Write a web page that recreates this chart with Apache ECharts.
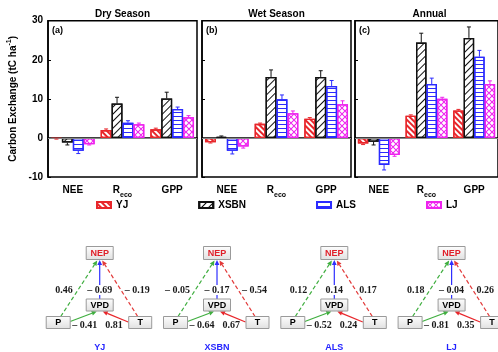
<!DOCTYPE html>
<html lang="en">
<head>
<meta charset="utf-8">
<title>Carbon Exchange</title>
<script src="https://cdn.jsdelivr.net/npm/echarts@6/dist/echarts.min.js"></script>
<style>
  html, body { margin: 0; padding: 0; background: #fff; }
  #chart { width: 498px; height: 352px; }
</style>
</head>
<body>
<div id="chart"></div>
<script>
// categories, sites, ticks
var cats = ['NEE', 'Reco', 'GPP'];
var sites = ['YJ', 'XSBN', 'ALS', 'LJ'];
var yTicks = [-10, 0, 10, 20, 30];
var panelTitles = ['Dry Season', 'Wet Season', 'Annual'];
var panelTags = ['(a)', '(b)', '(c)'];

// rows = sites (YJ, XSBN, ALS, LJ), cols = NEE, Reco, GPP
var dryMean = [[-0.2, 2.0, 2.2], [-1.2, 8.8, 10.1], [-3.3, 3.9, 7.4], [-1.6, 3.5, 5.3]];
var dryErr  = [[0.1, 0.3, 0.3], [0.6, 1.6, 1.6], [0.7, 0.5, 0.5], [0.2, 0.3, 0.4]];
var wetMean = [[-1.1, 3.6, 4.9], [0.3, 15.6, 15.6], [-3.3, 9.9, 13.3], [-2.2, 6.3, 8.6]];
var wetErr  = [[0.2, 0.2, 0.3], [0.2, 1.8, 1.6], [0.8, 1.1, 1.4], [0.4, 0.6, 0.9]];
var annMean = [[-1.4, 5.7, 7.0], [-1.0, 24.4, 25.6], [-6.9, 13.8, 20.8], [-4.4, 10.0, 13.8]];
var annErr  = [[0.3, 0.2, 0.3], [0.8, 2.4, 2.8], [1.3, 1.5, 1.6], [0.3, 0.4, 0.8]];

// path coefficients for the four sites
var pToNep   = [0.46, -0.05, 0.12, 0.18];
var vpdToNep = [-0.69, -0.17, 0.14, -0.04];
var tToNep   = [-0.19, -0.54, 0.17, 0.26];
var pToVpd   = [-0.41, -0.64, -0.52, -0.81];
var tToVpd   = [0.81, 0.67, 0.24, 0.35];

var RED = '#e8262b', BLACK = '#111111', BLUE = '#2b2bff', PINK = '#ee22ee';
var siteColors = [RED, BLACK, BLUE, PINK];
var SANS = '"Liberation Sans", Arial, sans-serif';
var SERIF = '"Liberation Serif", "Times New Roman", serif';

var decals = [
    {symbol: 'rect', symbolSize: 1, color: RED, dashArrayX: [1, 0], dashArrayY: [2, 2], rotation: Math.PI / 4},
    {symbol: 'rect', symbolSize: 1, color: BLACK, dashArrayX: [1, 0], dashArrayY: [1, 4], rotation: -Math.PI / 4},
    {symbol: 'rect', symbolSize: 1, color: BLUE, dashArrayX: [1, 0], dashArrayY: [1, 3], rotation: 0},
    {symbol: 'path://M0,0L1.2,0L10,8.8L10,10L8.8,10L0,1.2Z M8.8,0L10,0L10,1.2L1.2,10L0,10L0,8.8Z',
     symbolSize: 1, symbolKeepAspect: false, color: PINK, dashArrayX: [6, 0], dashArrayY: [6, 0], rotation: 0}
];

var means = [dryMean, wetMean, annMean];
var errs = [dryErr, wetErr, annErr];
var panelLeft = [48, 202, 355];

var chart = echarts.init(document.getElementById('chart'));

var grids = [], xAxes = [], yAxes = [], series = [], graphics = [];

for (var g = 0; g < 3; g++) {
    grids.push({left: panelLeft[g], top: 20.7, width: 149, height: 156.3,
        show: true, borderColor: '#000', borderWidth: 1.5, backgroundColor: 'transparent'});
    xAxes.push({
        type: 'category', gridIndex: g, data: cats,
        axisLine: {lineStyle: {color: '#000', width: 1.5}},
        axisTick: {inside: true, alignWithLabel: true, length: 3, lineStyle: {color: '#000'}},
        axisLabel: {
            interval: 0, hideOverlap: false,
            color: '#000', fontWeight: 'bold', fontSize: 10, fontFamily: SANS, margin: 8,
            formatter: function (v) { return v === 'Reco' ? '{b|R}{sub|eco}' : '{b|' + v + '}'; },
            rich: {
                b: {fontSize: 10, fontWeight: 'bold', fontFamily: SANS, color: '#000', lineHeight: 14, verticalAlign: 'top'},
                sub: {fontSize: 7, fontWeight: 'bold', fontFamily: SANS, color: '#000', lineHeight: 14, verticalAlign: 'bottom'}
            }
        }
    });
    yAxes.push({
        type: 'value', gridIndex: g, min: yTicks[0], max: yTicks[yTicks.length - 1], interval: 10,
        splitLine: {show: false},
        axisLine: {show: true, lineStyle: {color: '#000', width: 1.5}},
        axisTick: {show: true, inside: true, length: 3, lineStyle: {color: '#000'}},
        axisLabel: {show: g === 0, color: '#000', fontWeight: 'bold', fontSize: 10, fontFamily: SANS, margin: 5},
        name: g === 0 ? 'Carbon Exchange (tC ha{sup|-1})' : '',
        nameLocation: 'middle', nameGap: 28,
        nameTextStyle: {
            color: '#000', fontWeight: 'bold', fontSize: 10, fontFamily: SANS,
            rich: {sup: {fontSize: 7, fontWeight: 'bold', fontFamily: SANS, color: '#000', verticalAlign: 'top', lineHeight: 14}}
        }
    });

    for (var s = 0; s < 4; s++) {
        var bar = {
            type: 'bar', name: sites[s], xAxisIndex: g, yAxisIndex: g,
            barWidth: '22%', barGap: '0%',
            itemStyle: {color: '#fff', borderColor: siteColors[s], borderWidth: 1.3, decal: decals[s]},
            emphasis: {disabled: true},
            data: means[g][s]
        };
        if (s === 0) {
            bar.markLine = {silent: true, symbol: 'none', label: {show: false},
                lineStyle: {color: '#888', width: 1, type: 'solid'}, data: [{yAxis: 0}]};
        }
        series.push(bar);
    }

    // error bars, drawn outward from each bar
    (function (gi) {
        var data = [];
        for (var s2 = 0; s2 < 4; s2++) {
            for (var c = 0; c < 3; c++) data.push([c, means[gi][s2][c], errs[gi][s2][c], s2]);
        }
        series.push({
            type: 'custom', xAxisIndex: gi, yAxisIndex: gi, z: 5, silent: true,
            encode: {x: 0, y: 1},
            data: data,
            renderItem: function (params, api) {
                var c = api.value(0), m = api.value(1), e = api.value(2), si = api.value(3);
                var base = api.coord([c, m]);
                var tip = api.coord([c, m < 0 ? m - e : m + e]);
                var band = api.size([1, 0])[0];
                var x = base[0] + (si - 1.5) * 0.22 * band;
                var col = siteColors[si];
                return {type: 'group', children: [
                    {type: 'line', shape: {x1: x, y1: base[1], x2: x, y2: tip[1]}, style: {stroke: col, lineWidth: 1}},
                    {type: 'line', shape: {x1: x - 2, y1: tip[1], x2: x + 2, y2: tip[1]}, style: {stroke: col, lineWidth: 1}}
                ]};
            }
        });
    })(g);

    graphics.push({type: 'text', x: panelLeft[g] + 74.5, y: 14,
        style: {text: panelTitles[g], font: 'bold 10px ' + SANS, fill: '#000', align: 'center', verticalAlign: 'middle'}});
    graphics.push({type: 'text', x: panelLeft[g] + 4, y: 31,
        style: {text: panelTags[g], font: 'bold 9px ' + SANS, fill: '#000', align: 'left', verticalAlign: 'middle'}});
}

// hidden grid for the path diagrams, x = site index
grids.push({left: 0, width: 498, top: 253, height: 99, show: false});
xAxes.push({type: 'value', gridIndex: 3, min: -0.85, max: 3.3955, show: false});
yAxes.push({type: 'value', gridIndex: 3, min: -1, max: 0, show: false});

function fmt(v) {
    return v < 0 ? '\u2013 ' + Math.abs(v).toFixed(2) : v.toFixed(2);
}

var boxFill = new echarts.graphic.LinearGradient(0, 0, 0, 1, [
    {offset: 0, color: '#fefefe'}, {offset: 1, color: '#e0e0e0'}
]);

function box(cx, cy, w, h, text, color) {
    return [
        {type: 'rect', shape: {x: cx - w / 2, y: cy - h / 2, width: w, height: h},
            style: {fill: boxFill, stroke: '#9a9a9a', lineWidth: 1}},
        {type: 'text', x: cx, y: cy + 0.5,
            style: {text: text, fill: color, font: 'bold 9px ' + SANS, align: 'center', verticalAlign: 'middle'}}
    ];
}

function arrow(x1, y1, x2, y2, color, dashed) {
    var dx = x2 - x1, dy = y2 - y1, len = Math.sqrt(dx * dx + dy * dy);
    var ux = dx / len, uy = dy / len, hl = 5, hw = 2.4;
    var bx = x2 - ux * hl, by = y2 - uy * hl;
    return [
        {type: 'line', shape: {x1: x1, y1: y1, x2: bx, y2: by},
            style: {stroke: color, lineWidth: 1.2, lineDash: dashed ? [4, 2.5] : null}},
        {type: 'polygon', shape: {points: [[x2, y2], [bx - uy * hw, by + ux * hw], [bx + uy * hw, by - ux * hw]]},
            style: {fill: color}}
    ];
}

function coefText(x, y, v, align, bg) {
    return {type: 'text', x: x, y: y, z2: 10,
        style: {text: fmt(v), fill: '#1a1a1a', font: 'bold 10px ' + SERIF, align: align, verticalAlign: 'middle',
            backgroundColor: bg ? '#fff' : null, padding: bg ? [0, 1] : 0}};
}

var pathData = [];
for (var k = 0; k < sites.length; k++) pathData.push([k, 0]);

series.push({
    type: 'custom', xAxisIndex: 3, yAxisIndex: 3, silent: true, clip: false,
    data: pathData,
    renderItem: function (params, api) {
        var i = api.value(0);
        var p = api.coord([i, 0]);
        var cx = p[0], cy = p[1];
        var kids = [];
        kids = kids.concat(arrow(cx - 39, cy + 63.5, cx - 2.5, cy + 7.5, '#3fae3f', true));
        kids = kids.concat(arrow(cx + 38, cy + 63.5, cx + 2.5, cy + 7.5, '#e23a3a', true));
        kids = kids.concat(arrow(cx, cy + 46, cx, cy + 7, '#2f2fff', false));
        kids = kids.concat(arrow(cx - 29.5, cy + 68.5, cx - 3, cy + 58.5, '#3fae3f', false));
        kids = kids.concat(arrow(cx + 28.5, cy + 69, cx + 3, cy + 58.5, '#e8262b', false));
        kids = kids.concat(box(cx, cy, 27, 13, 'NEP', '#e0202a'));
        kids = kids.concat(box(cx, cy + 52, 27, 12, 'VPD', '#000'));
        kids = kids.concat(box(cx - 41.5, cy + 69.5, 24, 12, 'P', '#000'));
        kids = kids.concat(box(cx + 40.5, cy + 69.5, 23, 12, 'T', '#000'));
        kids.push(coefText(cx - 27, cy + 37, pToNep[i], 'right', false));
        kids.push(coefText(cx, cy + 37, vpdToNep[i], 'center', true));
        kids.push(coefText(cx + 25, cy + 37, tToNep[i], 'left', false));
        kids.push(coefText(cx - 27.5, cy + 72, pToVpd[i], 'left', false));
        kids.push(coefText(cx + 5.5, cy + 72, tToVpd[i], 'left', false));
        kids.push({type: 'text', x: cx, y: cy + 95,
            style: {text: sites[i], fill: '#2424ff', font: 'bold 9px ' + SANS, align: 'center', verticalAlign: 'middle'}});
        return {type: 'group', children: kids};
    }
});

var option = {
    animation: false,
    backgroundColor: '#fff',
    grid: grids,
    xAxis: xAxes,
    yAxis: yAxes,
    legend: {
        data: sites, left: 91, top: 195, itemGap: 70, itemWidth: 14, itemHeight: 6, icon: 'rect',
        selectedMode: false,
        textStyle: {color: '#000', fontWeight: 'bold', fontSize: 10, fontFamily: SANS}
    },
    graphic: graphics,
    series: series
};

chart.setOption(option);
</script>
</body>
</html>
